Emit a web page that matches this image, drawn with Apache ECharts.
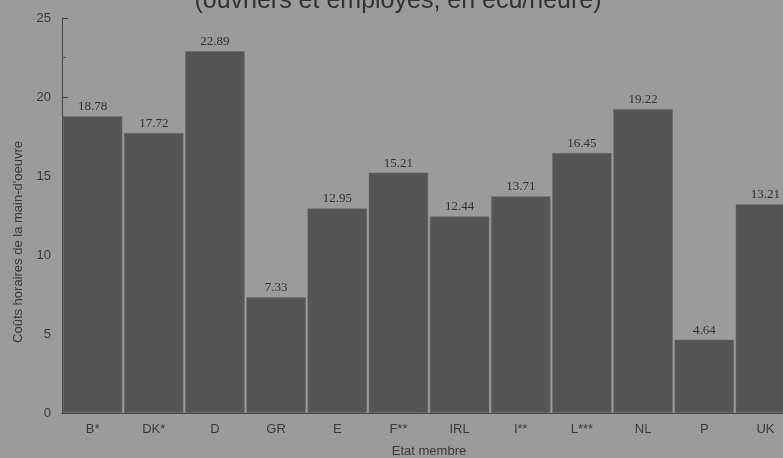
<!DOCTYPE html>
<html>
<head>
<meta charset="utf-8">
<script src="https://cdn.jsdelivr.net/npm/echarts@6/dist/echarts.min.js"></script>
<style>
  html, body { margin: 0; padding: 0; background: #9b9b9b; }
  #chart { width: 783px; height: 458px; }
</style>
</head>
<body>
<div id="chart"></div>
<script>
// Member states and hourly labour costs (ecu/hour)
const categories = ['B*', 'DK*', 'D', 'GR', 'E', 'F**', 'IRL', 'I**', 'L***', 'NL', 'P', 'UK'];
const costs = [18.78, 17.72, 22.89, 7.33, 12.95, 15.21, 12.44, 13.71, 16.45, 19.22, 4.64, 13.21];
const yTicks = [0, 5, 10, 15, 20, 25];

const chart = echarts.init(document.getElementById('chart'));
chart.setOption({
  backgroundColor: '#9b9b9b',
  animation: false,
  title: {
    text: '(ouvriers et employés, en écu/heure)',
    left: 393,
    textAlign: 'center',
    top: -16,
    textStyle: { fontFamily: 'Liberation Sans', fontSize: 25, fontWeight: 'normal', color: '#333' }
  },
  graphic: [{
    type: 'text',
    x: 18,
    y: 242,
    rotation: Math.PI / 2,
    style: {
      text: "Coûts horaires de la main-d'oeuvre",
      fontFamily: 'Liberation Sans',
      fontSize: 13,
      fill: '#3a3a3a',
      align: 'center',
      verticalAlign: 'middle'
    }
  }],
  grid: { left: 62, top: 18, bottom: 45, width: 734, outerBoundsMode: 'none', containLabel: false },
  xAxis: {
    type: 'category',
    data: categories,
    name: 'Etat membre',
    nameLocation: 'middle',
    nameGap: 32,
    nameTextStyle: { fontFamily: 'Liberation Sans', fontSize: 13, color: '#3a3a3a' },
    axisLine: { lineStyle: { color: '#444', width: 1 } },
    axisTick: { show: false },
    axisLabel: { fontFamily: 'Liberation Sans', fontSize: 13, color: '#3a3a3a', margin: 10 }
  },
  yAxis: {
    type: 'value',
    min: 0,
    max: 25,
    interval: 5,
    axisLine: { show: true, lineStyle: { color: '#444', width: 1 } },
    axisTick: { show: true, inside: true, length: 6, lineStyle: { color: '#444' } },
    minorTick: { show: true, splitNumber: 2, length: 4, lineStyle: { color: '#555' } },
    splitLine: { show: false },
    axisLabel: {
      fontFamily: 'Liberation Sans', fontSize: 13, color: '#3a3a3a', margin: 11,
      formatter: v => (yTicks.includes(v) ? String(v) : '')
    }
  },
  series: [{
    type: 'bar',
    data: costs,
    barCategoryGap: '3%',
    itemStyle: { color: '#555555', borderColor: '#6a6a6a', borderWidth: 0.5 },
    label: {
      show: true,
      position: 'top',
      distance: 3,
      fontFamily: 'Liberation Serif',
      fontSize: 13,
      color: '#333',
      formatter: p => p.value.toFixed(2)
    }
  }]
});
</script>
</body>
</html>
